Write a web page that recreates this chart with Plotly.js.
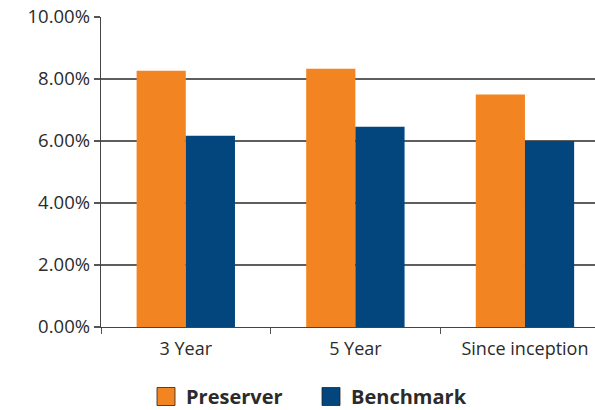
<!DOCTYPE html>
<html>
<head>
<meta charset="utf-8">
<script src="https://cdn.plot.ly/plotly-3.0.1.min.js"></script>
<style>html,body{margin:0;padding:0;background:#fff;}#chart{width:595px;height:410px;}</style>
</head>
<body>
<div id="chart"></div>
<script>
const categories = ["3 Year", "5 Year", "Since inception"];
const preserver = [8.27, 8.33, 7.50];
const benchmark = [6.17, 6.46, 6.00];
const seriesNames = ["Preserver", "Benchmark"];

const textColor = "#2b2b2b";
const font = "'Open Sans', 'Noto Sans', sans-serif";

const traces = [
  {type: "bar", name: seriesNames[0], x: categories, y: preserver,
   marker: {color: "#F38422", line: {width: 0}}, hoverinfo: "skip"},
  {type: "bar", name: seriesNames[1], x: categories, y: benchmark,
   marker: {color: "#03457D", line: {width: 0}}, hoverinfo: "skip"}
];

const layout = {
  width: 595, height: 410,
  margin: {l: 101, r: 0, t: 17, b: 83, pad: 0},
  paper_bgcolor: "#fff", plot_bgcolor: "#fff",
  barmode: "group", bargap: 0.42, bargroupgap: 0,
  font: {family: font, color: textColor, size: 16},
  showlegend: true,
  legend: {orientation: "h", x: 0.22, xref: "container", xanchor: "left",
           y: 0, yref: "container", yanchor: "bottom",
           font: {family: font, size: 20, color: textColor, weight: "bold"},
           entrywidth: 120, entrywidthmode: "pixels", traceorder: "normal"},
  xaxis: {type: "category", range: [-0.5, 2.413], tickson: "boundaries",
          ticks: "outside", ticklen: 6, tickcolor: "#555", tickwidth: 1,
          showline: true, linecolor: "#444", linewidth: 1.3,
          showgrid: false, zeroline: false, ticklabelstandoff: 5, automargin: false,
          tickfont: {family: font, size: 18, color: textColor}, fixedrange: true},
  yaxis: {range: [0, 10], dtick: 2, tick0: 0, tickformat: ".2f", ticksuffix: "%",
          ticks: "outside", ticklen: 6, tickcolor: "#555", tickwidth: 1.3,
          showline: true, linecolor: "#444", linewidth: 1.3,
          showgrid: true, gridcolor: "#5e5e5e", gridwidth: 1.3, zeroline: false,
          ticklabelstandoff: 12.5, automargin: false,
          tickfont: {family: font, size: 18.5, color: textColor}, fixedrange: true}
};

Plotly.newPlot("chart", traces, layout, {staticPlot: true, displayModeBar: false}).then(function (gd) {
  const paths = gd.querySelectorAll(".legend .legendpoints path");
  paths.forEach(function (p) {
    p.setAttribute("d", "M9,9H-9V-9H9Z");
    p.style.stroke = "#222";
    p.style.strokeWidth = "0.8px";
  });
  gd.querySelectorAll(".legend [clip-path]").forEach(function (e) { e.removeAttribute("clip-path"); });
  const leg = gd.querySelector(".legend");
  if (leg && paths.length) {
    const box = paths[0].getBoundingClientRect();
    const host = gd.getBoundingClientRect();
    const dx = 157 - (box.left - host.left);
    const dy = 396.5 - ((box.top + box.bottom) / 2 - host.top);
    const m = /translate\(\s*([-\d.]+)[ ,]+([-\d.]+)\s*\)/.exec(leg.getAttribute("transform") || "");
    const tx = m ? parseFloat(m[1]) : 0, ty = m ? parseFloat(m[2]) : 0;
    leg.setAttribute("transform", "translate(" + (tx + dx) + "," + (ty + dy) + ")");
  }
});
</script>
</body>
</html>
